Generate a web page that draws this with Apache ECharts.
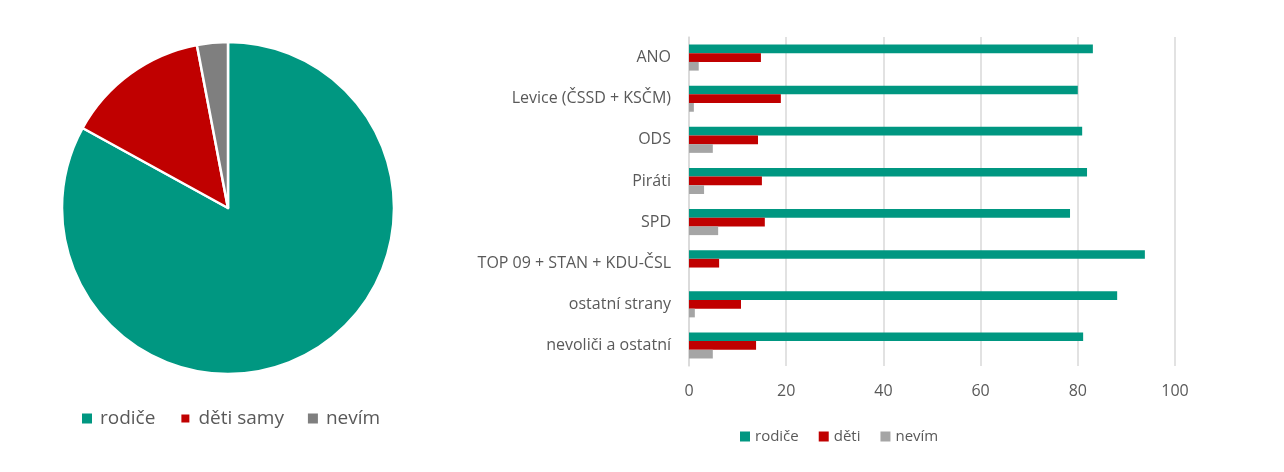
<!DOCTYPE html>
<html>
<head>
<meta charset="utf-8">
<script src="https://cdn.jsdelivr.net/npm/echarts@6/dist/echarts.min.js"></script>
<style>html,body{margin:0;padding:0;background:#fff;}#c{width:1284px;height:472px;}</style>
</head>
<body>
<div id="c"></div>
<script>
const pieNames = ['rodiče', 'děti samy', 'nevím'];
const pieValues = [83, 14, 3];

const categories = ['ANO', 'Levice (ČSSD + KSČM)', 'ODS', 'Piráti', 'SPD', 'TOP 09 + STAN + KDU-ČSL', 'ostatní strany', 'nevoliči a ostatní'];
const rodice = [83.1, 80.0, 80.9, 81.9, 78.4, 93.8, 88.1, 81.1];
const deti = [14.8, 18.9, 14.2, 15.0, 15.6, 6.2, 10.7, 13.8];
const nevim = [2.0, 1.0, 4.9, 3.1, 6.0, 0, 1.2, 4.9];
const xTicks = [0, 20, 40, 60, 80, 100];

const TEAL = '#009781', RED = '#c00000', PGRAY = '#7f7f7f', BGRAY = '#a5a5a5', TXT = '#595959';
const font = '"Open Sans", "Noto Sans", sans-serif';

const chart = echarts.init(document.getElementById('c'), null, {renderer: 'canvas'});
chart.setOption({
  animation: false,
  textStyle: {fontFamily: font, color: TXT},
  legend: [
    {
      data: [
        {name: pieNames[0], itemStyle: {color: TEAL}},
        {name: pieNames[1], itemStyle: {color: RED}},
        {name: pieNames[2], itemStyle: {color: PGRAY}}
      ],
      left: 77, top: 404, itemWidth: 10, itemHeight: 10, itemGap: 24,
      icon: 'rect', selectedMode: false,
      textStyle: {fontSize: 19, color: TXT, fontFamily: font, padding: [0, 0, 0, 3]}
    },
    {
      data: [
        {name: 'rodiče', itemStyle: {color: TEAL}},
        {name: 'děti', itemStyle: {color: RED}},
        {name: 'nevím', itemStyle: {color: BGRAY}}
      ],
      left: 735, top: 424, itemWidth: 10, itemHeight: 10, itemGap: 20,
      icon: 'rect', selectedMode: false,
      textStyle: {fontSize: 15, color: TXT, fontFamily: font}
    }
  ],
  grid: {left: 689, right: 109, top: 37, bottom: 106, containLabel: false},
  xAxis: {
    type: 'value', min: 0, max: 100, interval: 20,
    axisLine: {show: false}, axisTick: {show: false},
    splitLine: {lineStyle: {color: '#d9d9d9', width: 1.5}},
    axisLabel: {fontSize: 16, color: TXT, margin: 17, fontFamily: font,
      formatter: v => xTicks.includes(v) ? String(v) : ''}
  },
  yAxis: {
    type: 'category', data: categories, inverse: true,
    axisLine: {show: true, lineStyle: {color: '#d9d9d9', width: 1.5}},
    axisTick: {show: false},
    axisLabel: {fontSize: 16, color: TXT, margin: 18, fontFamily: font}
  },
  series: [
    {
      type: 'pie', name: 'pie', center: [228, 208], radius: 166,
      startAngle: 90, clockwise: true,
      label: {show: false}, labelLine: {show: false},
      itemStyle: {borderColor: '#fff', borderWidth: 2.5},
      emphasis: {disabled: true},
      data: pieNames.map((n, i) => ({name: n, value: pieValues[i], itemStyle: {color: [TEAL, RED, PGRAY][i]}}))
    },
    {type: 'bar', name: 'rodiče', data: rodice, itemStyle: {color: TEAL}, barWidth: 8.7, barGap: '0%'},
    {type: 'bar', name: 'děti', data: deti, itemStyle: {color: RED}, barWidth: 8.7, barGap: '0%'},
    {type: 'bar', name: 'nevím', data: nevim, itemStyle: {color: BGRAY}, barWidth: 8.7, barGap: '0%'}
  ]
});
</script>
</body>
</html>
